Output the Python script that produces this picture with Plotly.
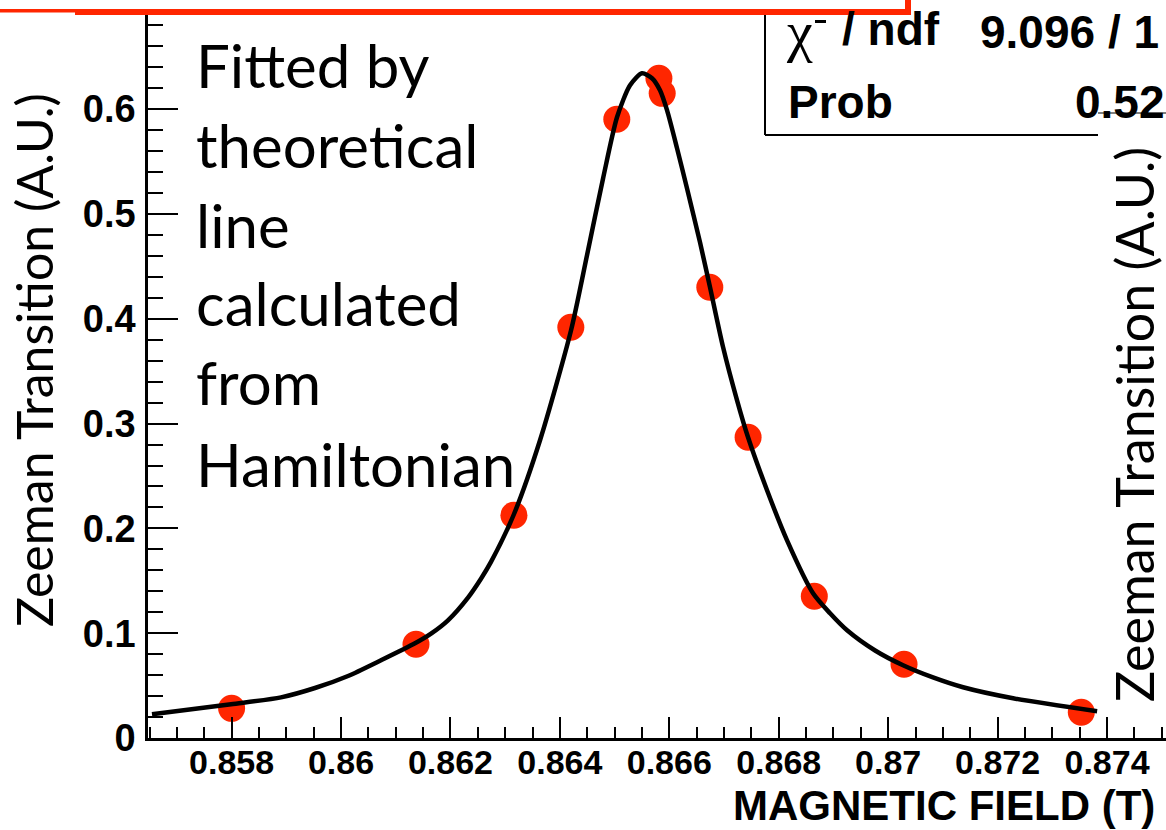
import plotly.graph_objects as go

# ---------------- data ----------------
field_T = [0.8580, 0.86137, 0.86316, 0.86420, 0.86504, 0.86581, 0.86587,
           0.86674, 0.86744, 0.86865, 0.87029, 0.87353]
transition = [0.0283, 0.0894, 0.2125, 0.3919, 0.5904, 0.6295, 0.6151,
              0.4301, 0.2869, 0.1352, 0.0703, 0.0245]
transition_err = [0.003, 0.004, 0.005, 0.006, 0.010, 0.005, 0.008,
                  0.006, 0.005, 0.004, 0.003, 0.003]

fit_x = [0.856545, 0.85799, 0.858903, 0.859524, 0.860128, 0.860731, 0.861352,
         0.861645, 0.861955, 0.862321, 0.862558, 0.862741, 0.86316, 0.863637,
         0.864204, 0.864496, 0.864789, 0.865044, 0.865282, 0.865501, 0.865684,
         0.86583, 0.865958, 0.866141, 0.866323, 0.866561, 0.866744, 0.866982,
         0.867238, 0.867439, 0.867786, 0.868152, 0.868627, 0.868938, 0.869249,
         0.869761, 0.870272, 0.870819, 0.871369, 0.872283, 0.873819]
fit_y = [0.0226, 0.0322, 0.0388, 0.0477, 0.0592, 0.0742, 0.0904,
         0.0996, 0.1123, 0.1340, 0.1520, 0.1680, 0.2135, 0.2841,
         0.3890, 0.4606, 0.5339, 0.5923, 0.6228, 0.6343, 0.6295,
         0.6180, 0.5990, 0.5627, 0.5245, 0.4730, 0.4300, 0.3730,
         0.3222, 0.2869, 0.2364, 0.1886, 0.1381, 0.1190, 0.1028,
         0.0835, 0.0694, 0.0578, 0.0484, 0.0379, 0.0255]

x_tickvals = [0.858, 0.860, 0.862, 0.864, 0.866, 0.868, 0.870, 0.872, 0.874]
x_ticktext = ["0.858", "0.86", "0.862", "0.864", "0.866", "0.868", "0.87", "0.872", "0.874"]
y_tickvals = [0.0, 0.1, 0.2, 0.3, 0.4, 0.5, 0.6]
y_ticktext = ["0", "0.1", "0.2", "0.3", "0.4", "0.5", "0.6"]

note_lines = ["Fitted by", "theoretical", "line", "calculated", "from", "Hamiltonian"]
y_title = "Zeeman Transition (A.U.)"
x_title = "MAGNETIC FIELD (T)"
stat_chi_symbol = "\u03c7"
stat_chi_label = "/ ndf"
stat_chi_value = "9.096 / 1"
stat_prob_label = "Prob"
stat_prob_value = "0.52"

# ---------------- geometry ----------------
W, H = 1166, 830
L, T, B = 148, 14, 738          # plot area in pixels
R = W


def PX(x):
    return (x - L) / (R - L)


def PY(y):
    return (B - y) / (B - T)


RED = "rgb(255,38,0)"
BOLD = "Liberation Sans"

fig = go.Figure()

fig.add_trace(go.Scatter(
    x=field_T, y=transition, mode="markers",
    marker=dict(size=27, color=RED, line=dict(width=0)),
    error_y=dict(type="data", array=transition_err, color="black",
                 thickness=2.5, width=3),
    showlegend=False, hoverinfo="skip"))

fig.add_trace(go.Scatter(
    x=fit_x, y=fit_y, mode="lines",
    line=dict(color="black", width=4.5, shape="spline", smoothing=0.7),
    showlegend=False, hoverinfo="skip"))

fig.update_layout(
    width=W, height=H,
    margin=dict(l=L, r=0, t=T, b=H - B, pad=0),
    paper_bgcolor="white", plot_bgcolor="white",
    showlegend=False,
)

fig.update_xaxes(
    range=[0.856472, 0.875078],
    tickmode="array", tickvals=x_tickvals, ticktext=x_ticktext,
    ticks="inside", ticklen=21, tickwidth=1.5, tickcolor="black",
    minor=dict(ticks="inside", ticklen=11, tickwidth=1.5, tickcolor="black",
               tickmode="linear", tick0=0.858, dtick=0.0005, showgrid=False),
    showline=True, linecolor="black", linewidth=2.5, mirror=False,
    showgrid=False, zeroline=False,
    tickfont=dict(family=BOLD, size=34, color="black", weight="bold"),
    ticklabelstandoff=-8,
)
fig.update_yaxes(
    range=[0, 0.6908],
    tickmode="array", tickvals=y_tickvals, ticktext=y_ticktext,
    ticks="inside", ticklen=30, tickwidth=1.5, tickcolor="black",
    minor=dict(ticks="inside", ticklen=15, tickwidth=1.5, tickcolor="black",
               tickmode="linear", tick0=0, dtick=0.02, showgrid=False),
    showline=True, linecolor="black", linewidth=2.5, mirror=False,
    showgrid=False, zeroline=False,
    tickfont=dict(family=BOLD, size=38, color="black", weight="bold"),
    ticklabelstandoff=2,
)

shapes = []
# stats box (white fill, left + bottom borders)
shapes.append(dict(type="rect", xref="paper", yref="paper",
                   x0=PX(765), x1=PX(1170), y0=PY(135), y1=PY(-10),
                   fillcolor="white", line=dict(width=0), layer="above"))
shapes.append(dict(type="line", xref="paper", yref="paper",
                   x0=PX(765), x1=PX(765), y0=PY(135), y1=PY(0),
                   line=dict(color="black", width=2), layer="above"))
shapes.append(dict(type="line", xref="paper", yref="paper",
                   x0=PX(765), x1=PX(1098), y0=PY(135), y1=PY(135),
                   line=dict(color="black", width=2), layer="above"))
shapes.append(dict(type="line", xref="paper", yref="paper",
                   x0=PX(1098), x1=PX(1170), y0=PY(113), y1=PY(113),
                   line=dict(color="#555555", width=1.5), layer="above"))
# remnant of the hidden superscript under the red frame
shapes.append(dict(type="line", xref="paper", yref="paper",
                   x0=PX(815), x1=PX(826), y0=PY(21.5), y1=PY(21.5),
                   line=dict(color="black", width=3), layer="above"))
# red framed white box at top
shapes.append(dict(type="rect", xref="paper", yref="paper",
                   x0=PX(-20), x1=PX(908), y0=PY(12), y1=PY(-30),
                   fillcolor="white", line=dict(color=RED, width=6), layer="above"))
shapes.append(dict(type="rect", xref="paper", yref="paper",
                   x0=PX(-5), x1=PX(75), y0=PY(16), y1=PY(12.5),
                   fillcolor="white", line=dict(width=0), layer="above"))
fig.update_layout(shapes=shapes)

ann = []
# explanatory note
note_centers = [65, 145, 225, 303, 382, 464]
for txt, yc in zip(note_lines, note_centers):
    ann.append(dict(text=txt, xref="paper", yref="paper", x=PX(194), y=PY(yc),
                    xanchor="left", yanchor="middle", showarrow=False,
                    font=dict(family="Lato", size=60, color="black")))
# axis titles
ann.append(dict(text=y_title, xref="paper", yref="paper", x=PX(34), y=PY(360),
                xanchor="center", yanchor="middle", textangle=-90, showarrow=False,
                font=dict(family="Lato", size=50, color="black")))
ann.append(dict(text=y_title, xref="paper", yref="paper", x=PX(1134), y=PY(425),
                xanchor="center", yanchor="middle", textangle=-90, showarrow=False,
                font=dict(family="Lato", size=52, color="black")))
ann.append(dict(text=x_title, xref="paper", yref="paper", x=PX(1157), y=PY(805),
                xanchor="right", yanchor="middle", showarrow=False,
                font=dict(family=BOLD, size=42, color="black", weight="bold")))
# stats box text
ann.append(dict(text=stat_chi_symbol, xref="paper", yref="paper", x=PX(784), y=PY(31),
                xanchor="left", yanchor="middle", showarrow=False,
                font=dict(family="Liberation Serif", size=58, color="black")))
ann.append(dict(text=stat_chi_label, xref="paper", yref="paper", x=PX(840), y=PY(29),
                xanchor="left", yanchor="middle", showarrow=False,
                font=dict(family=BOLD, size=46, color="black", weight="bold")))
ann.append(dict(text=stat_chi_value, xref="paper", yref="paper", x=PX(978), y=PY(32),
                xanchor="left", yanchor="middle", showarrow=False,
                font=dict(family=BOLD, size=46, color="black", weight="bold")))
ann.append(dict(text=stat_prob_label, xref="paper", yref="paper", x=PX(786), y=PY(102),
                xanchor="left", yanchor="middle", showarrow=False,
                font=dict(family=BOLD, size=46, color="black", weight="bold")))
ann.append(dict(text=stat_prob_value, xref="paper", yref="paper", x=PX(1073), y=PY(102),
                xanchor="left", yanchor="middle", showarrow=False,
                font=dict(family=BOLD, size=46, color="black", weight="bold")))
fig.update_layout(annotations=ann)

fig.write_html("out.html")
